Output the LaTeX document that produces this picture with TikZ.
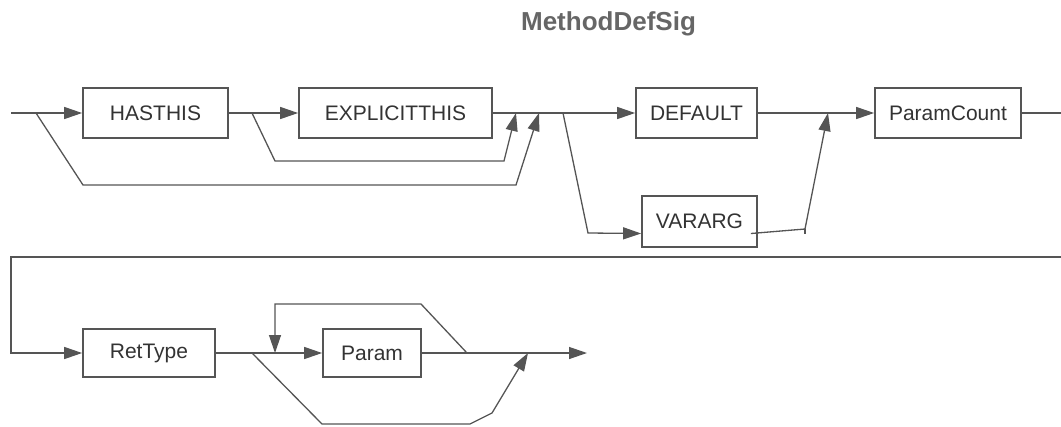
\documentclass[tikz,border=0pt]{standalone}
\usepackage{fontspec}
\setmainfont{Liberation Sans}
\usetikzlibrary{arrows.meta}
\definecolor{linegray}{HTML}{555555}
\definecolor{textgray}{HTML}{333333}
\definecolor{titlegray}{HTML}{666666}

\begin{document}
\begin{tikzpicture}[x=1bp, y=-1bp, line width=1.3bp, color=linegray,
  every node/.style={font=\fontsize{21bp}{25bp}\selectfont, text=textgray},
  box/.style={draw=linegray, line width=1.7bp, rectangle, minimum height=50bp, inner sep=0pt},
  arr/.style={-{Triangle[length=18bp,width=12bp]}}]
\useasboundingbox (0,0) rectangle (1061,426);
\node[font=\fontsize{26bp}{30bp}\selectfont\bfseries, text=titlegray, anchor=base] (title) at (608.5,30) {MethodDefSig};

% first row
\node[box, minimum width=145bp] (hasthis) at (155.5,113) {HASTHIS};
\node[box, minimum width=193bp] (explicit) at (395.5,113) {EXPLICITTHIS};
\node[box, minimum width=121bp] (default) at (696.5,113) {DEFAULT};
\node[box, minimum width=115bp, minimum height=51bp] (vararg) at (699.5,221.5) {VARARG};
\node[box, minimum width=146bp] (paramcnt) at (948,113) {ParamCount};
\coordinate (start) at (11,113);
\coordinate (skip1) at (36,113);
\coordinate (skip2) at (252,113);
\coordinate (join1) at (516,113);
\coordinate (join2) at (539,113);
\coordinate (fork) at (563,113);
\coordinate (join3) at (828,113);
\coordinate (out) at (1061,113);
\draw[arr] (start) -- (hasthis);
\draw[arr] (hasthis) -- (explicit);
\draw (explicit) -- (fork);
\draw[arr] (fork) -- (default);
\draw[arr] (default) -- (paramcnt);
\draw (paramcnt) -- (out);
\draw[arr] (skip1) -- (83,185) -- (516,185) -- (join2);
\draw[arr] (skip2) -- (275,161) -- (504,161) -- (join1);
\draw[arr] (fork) -- (588,233) -- ([yshift=-12bp]vararg.west);
\draw[arr] ([xshift=-7bp,yshift=-12bp]vararg.east) -- (805,229) -- (join3);
\draw (805,229) -- (805,234);

% second row
\node[box, minimum width=132bp, minimum height=48bp] (rettype) at (149,353) {RetType};
\node[box, minimum width=98bp, minimum height=48bp] (param) at (372,353) {Param};
\coordinate (wrapR) at (1061,257);
\coordinate (wrapL) at (11,257);
\coordinate (skip3) at (252,353);
\coordinate (loopin) at (275,353);
\coordinate (loopout) at (467,353);
\coordinate (join4) at (528,353);
\coordinate (end) at (587,353);
\draw[arr] (wrapR) -- (wrapL) -- (11,353) -- (rettype);
\draw[arr] (rettype) -- (param);
\draw[arr] (param) -- (end);
\draw[arr] (loopout) -- (421,304) -- (275,304) -- (loopin);
\draw[arr] (skip3) -- (322,424) -- (470,424) -- (492,413) -- (join4);
\end{tikzpicture}
\end{document}
